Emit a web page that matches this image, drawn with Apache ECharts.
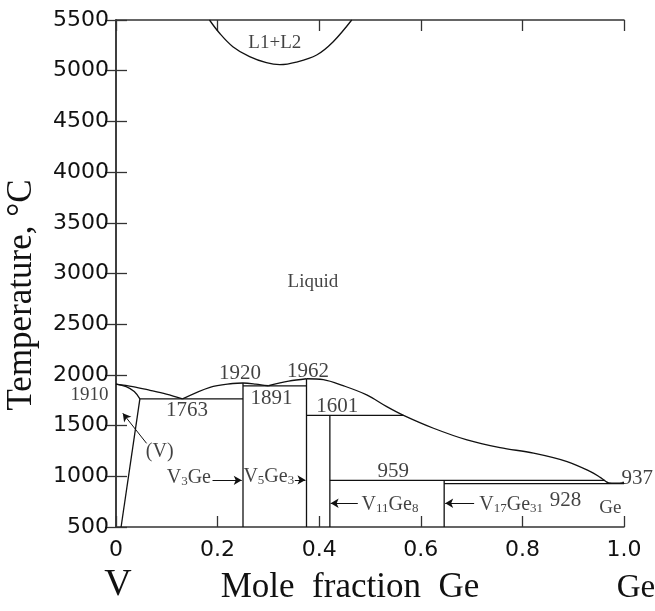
<!DOCTYPE html>
<html>
<head>
<meta charset="utf-8">
<script src="https://cdn.jsdelivr.net/npm/echarts@6/dist/echarts.min.js"></script>
<style>
  html, body { margin: 0; padding: 0; background: #fff; }
  #chart { width: 655px; height: 611px; }
</style>
</head>
<body>
<div id="chart"></div>
<script>
// tick values
const xTicks = [0, 0.2, 0.4, 0.6, 0.8, 1.0];
const yTicks = [500, 1000, 1500, 2000, 2500, 3000, 3500, 4000, 4500, 5000, 5500];

// phase boundaries [mole fraction Ge, T in C]
const liqV = [[0, 1910], [0.033, 1885], [0.067, 1848], [0.099, 1810], [0.131, 1763]];
const solidusV = [[0, 1910], [0.02, 1885], [0.036, 1836], [0.047, 1763]];
const solvusV = [[0.047, 1763], [0.01, 500]];
const liqV3Ge = [[0.131, 1763], [0.185, 1878], [0.23, 1915], [0.25, 1920], [0.275, 1910], [0.30, 1893]];
const liqV5Ge3 = [[0.30, 1893], [0.34, 1938], [0.375, 1962]];
const liqGe = [[0.375, 1962], [0.408, 1953], [0.447, 1894], [0.4935, 1803], [0.533, 1687], [0.566, 1601],
  [0.625, 1474], [0.691, 1359], [0.756, 1283], [0.822, 1228], [0.888, 1145], [0.934, 1046],
  [0.954, 987], [0.97, 935], [0.985, 932], [1.0, 937]];
const miscibility = [[0.184, 5500], [0.204, 5369], [0.23, 5237], [0.263, 5138], [0.296, 5079],
  [0.3225, 5060], [0.355, 5085], [0.395, 5155], [0.4276, 5286], [0.464, 5500]];

// invariant lines and compound lines
const isotherms = [
  [[0.047, 1763], [0.25, 1763]],
  [[0.25, 1891], [0.375, 1891]],
  [[0.375, 1601], [0.566, 1601]],
  [[0.421, 959], [0.962, 959]],
  [[0.646, 928], [1.0, 928]]
];
const compounds = [
  [[0.25, 500], [0.25, 1920]],
  [[0.375, 500], [0.375, 1962]],
  [[0.421, 500], [0.421, 1601]],
  [[0.646, 500], [0.646, 959]]
];

// annotations
const labelText = ['1910', '1763', '1920', '1891', '1962', '1601', '959', '928', '937', 'Ge', '(V)', 'Liquid', 'L1+L2',
  'V{s|3}Ge', 'V{s|5}Ge{s|3}', 'V{s|11}Ge{s|8}', 'V{s|17}Ge{s|31}'];
const labelAt = [[-0.052, 1802], [0.14, 1654], [0.244, 2016], [0.306, 1769], [0.378, 2032], [0.4355, 1686],
  [0.546, 1046], [0.885, 766], [1.026, 980], [0.973, 684], [0.086, 1243], [0.3876, 2916], [0.3126, 5270],
  [0.1434, 983], [0.3008, 996], [0.5394, 717], [0.778, 717]];
const labelSize = [19, 21, 21, 21, 21, 21, 21, 21, 21, 19, 20, 19, 19, 20, 20, 20, 20];
const arrows = [
  [[0.0602, 1325], [0.0134, 1621]],
  [[0.19, 960], [0.2475, 960]],
  [[0.352, 964], [0.373, 964]],
  [[0.476, 734], [0.4225, 734]],
  [[0.705, 734], [0.648, 734]]
];

const ink = '#111';
const serif = 'Liberation Serif';

function curve(data, smooth) {
  return {
    type: 'line', data: data, showSymbol: false, smooth: smooth ? 0.35 : false,
    lineStyle: { color: ink, width: 1.3 }, silent: true, z: 3
  };
}

const series = [];
[liqV, solidusV, liqV3Ge, liqV5Ge3, liqGe, miscibility].forEach(d => series.push(curve(d, true)));
[solvusV].concat(isotherms, compounds).forEach(d => series.push(curve(d, false)));

series.push({
  type: 'scatter',
  symbolSize: 0,
  clip: false,
  silent: true,
  data: labelAt.map((p, i) => ({
    value: p, name: labelText[i],
    label: { fontSize: labelSize[i] }
  })),
  label: {
    show: true,
    position: 'inside',
    color: ink,
    fontFamily: serif,
    formatter: p => p.name,
    rich: {
      s: { fontFamily: serif, fontSize: 13, color: ink, verticalAlign: 'bottom', padding: [5, 0, 0, 0] }
    }
  },
  z: 5
});

series.push({
  type: 'line',
  data: [],
  silent: true,
  markLine: {
    silent: true,
    animation: false,
    symbol: ['none', 'arrow'],
    symbolSize: [7, 8],
    label: { show: false },
    lineStyle: { color: ink, width: 1, type: 'solid' },
    data: arrows.map(a => [{ coord: a[0] }, { coord: a[1] }])
  }
});

const chart = echarts.init(document.getElementById('chart'), null, { renderer: 'canvas' });

const axisLine = { show: true, lineStyle: { color: '#333', width: 1.5 } };
const tick = { show: true, inside: true, length: 11, lineStyle: { color: '#333', width: 1.3 } };

chart.setOption({
  animation: false,
  backgroundColor: '#fff',
  grid: { left: 116, right: 31, top: 20, bottom: 84 },
  xAxis: [
    {
      type: 'value', min: 0, max: 1, interval: 0.2, position: 'bottom',
      axisLine: axisLine, axisTick: tick, splitLine: { show: false },
      axisLabel: {
        margin: 12, color: '#111', fontFamily: 'DejaVu Sans', fontSize: 22,
        formatter: v => xTicks.indexOf(v) === 0 ? '0' : v.toFixed(1)
      }
    },
    {
      type: 'value', min: 0, max: 1, interval: 0.2, position: 'top',
      axisLine: axisLine, axisTick: tick, splitLine: { show: false }, axisLabel: { show: false }
    }
  ],
  yAxis: [
    {
      type: 'value', min: yTicks[0], max: yTicks[yTicks.length - 1], interval: 500, position: 'left',
      axisLine: axisLine, axisTick: tick, splitLine: { show: false },
      axisLabel: { margin: 7, color: '#111', fontFamily: 'DejaVu Sans', fontSize: 22, formatter: v => String(v) }
    },
    {
      type: 'value', min: yTicks[0], max: yTicks[yTicks.length - 1], interval: 500, position: 'right',
      axisLine: axisLine, axisTick: tick, splitLine: { show: false }, axisLabel: { show: false }
    }
  ],
  graphic: [
    {
      type: 'text', x: 22, y: 295, rotation: Math.PI / 2,
      style: { text: 'Temperature, °C', fontFamily: serif, fontSize: 35, fill: ink, align: 'center', verticalAlign: 'middle' }
    },
    {
      type: 'text', x: 350, y: 588,
      style: { text: 'Mole  fraction  Ge', fontFamily: serif, fontSize: 35, fill: ink, align: 'center', verticalAlign: 'middle' }
    },
    {
      type: 'text', x: 118, y: 585,
      style: { text: 'V', fontFamily: serif, fontSize: 38, fill: ink, align: 'center', verticalAlign: 'middle' }
    },
    {
      type: 'text', x: 636, y: 588,
      style: { text: 'Ge', fontFamily: serif, fontSize: 33, fill: ink, align: 'center', verticalAlign: 'middle' }
    }
  ],
  series: series
});
</script>
</body>
</html>
